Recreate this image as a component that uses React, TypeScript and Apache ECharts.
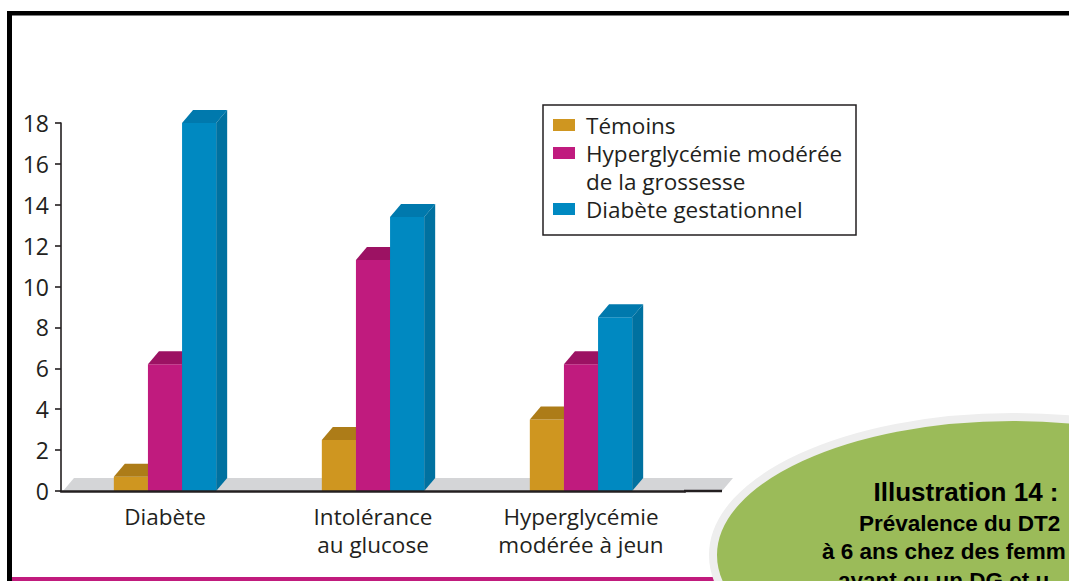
import React, { useEffect, useRef } from "react";
import * as echarts from "echarts";

// ---- data ----
const categories = ["Diabète", "Intolérance\nau glucose", "Hyperglycémie\nmodérée à jeun"];
const seriesNames = ["Témoins", "Hyperglycémie modérée de la grossesse", "Diabète gestationnel"];
const legendLabels = ["Témoins", "Hyperglycémie modérée\nde la grossesse", "Diabète gestationnel"];
const temoins = [0.7, 2.5, 3.5];
const hyperglycemieGrossesse = [6.2, 11.3, 6.2];
const diabeteGestationnel = [18, 13.4, 8.5];
const yMin = 0;
const yMax = 18;
const yStep = 2;
const calloutTitle = "Illustration 14 :";
const calloutLines = ["Prévalence du DT2", "à 6 ans chez des femm", "ayant eu un DG et u"];

// ---- styles ----
const palette = [
  { front: "#cf9620", top: "#ad7c18", side: "#a06f14" },
  { front: "#c01b7e", top: "#9c1263", side: "#8e105a" },
  { front: "#0089c1", top: "#0079ad", side: "#0071a0" },
];
const DX = 11;
const DY = 13;
const FONT = "'Open Sans', sans-serif";
const INK = "#231f20";
const calloutX = [859, 822, 838];

const allValues = [temoins, hyperglycemieGrossesse, diabeteGestationnel];

function makeRender(si: number) {
  return (params: any, api: any) => {
    const cat = api.value(0);
    const val = api.value(1);
    const top = api.coord([cat, val]);
    const base = api.coord([cat, 0]);
    const band = api.size([1, 0])[0];
    const bw = band * 0.164;
    const x0 = top[0] + (si - 1.5) * bw;
    const x1 = x0 + bw;
    const yT = top[1];
    const yB = base[1];
    const c = palette[si];
    return {
      type: "group",
      children: [
        { type: "polygon", shape: { points: [[x0, yB], [x1, yB], [x1, yT], [x0, yT]] }, style: { fill: c.front } },
        { type: "polygon", shape: { points: [[x0, yT], [x1, yT], [x1 + DX, yT - DY], [x0 + DX, yT - DY]] }, style: { fill: c.top } },
        { type: "polygon", shape: { points: [[x1, yB], [x1 + DX, yB - DY], [x1 + DX, yT - DY], [x1, yT]] }, style: { fill: c.side } },
      ],
    };
  };
}

export default function App() {
  const ref = useRef<HTMLDivElement>(null);
  useEffect(() => {
    if (!ref.current) return;
    const chart = echarts.init(ref.current, undefined, { renderer: "svg" });

    const legendGraphics: any[] = [
      { type: "rect", z: 10, shape: { x: 543, y: 105, width: 313, height: 130 }, style: { fill: "#fff", stroke: INK, lineWidth: 1.5 } },
    ];
    const rowY = [125, 153, 209];
    legendLabels.forEach((label, i) => {
      legendGraphics.push({ type: "rect", z: 11, shape: { x: 553, y: rowY[i] - 6, width: 22, height: 12 }, style: { fill: palette[i].front } });
      legendGraphics.push({
        type: "text", z: 11, x: 586, y: rowY[i] - 14,
        style: { text: label, fill: INK, font: `22.5px ${FONT}`, lineHeight: 28, verticalAlign: "top", align: "left" },
      });
    });

    const calloutGraphics: any[] = [
      { type: "ellipse", z: 10, shape: { cx: 1013, cy: 555, rx: 300, ry: 138 }, style: { fill: "#9bbb59", stroke: "#eeeeee", lineWidth: 8 } },
      { type: "text", z: 11, x: 966, y: 492, style: { text: calloutTitle, fill: "#000", font: "bold 26px 'Liberation Sans', Arial, sans-serif", align: "center", verticalAlign: "middle" } },
    ];
    calloutLines.forEach((t, i) => {
      calloutGraphics.push({
        type: "text", z: 11, x: calloutX[i], y: 523 + i * 28.5,
        style: { text: t, fill: "#000", font: "bold 22.5px 'Liberation Sans', Arial, sans-serif", align: "left", verticalAlign: "middle" },
      });
    });

    chart.setOption({
      animation: false,
      backgroundColor: "#fff",
      grid: { left: 61, top: 123, width: 624, height: 368, containLabel: false },
      xAxis: {
        type: "category",
        data: categories,
        z: 5,
        axisLine: { lineStyle: { color: INK, width: 2.5 } },
        axisTick: { show: false },
        axisLabel: { interval: 0, fontSize: 22.5, lineHeight: 28, color: INK, fontFamily: FONT, margin: 11 },
      },
      yAxis: {
        type: "value",
        min: yMin,
        max: yMax,
        interval: yStep,
        axisLine: { show: true, lineStyle: { color: INK, width: 1.6 } },
        axisTick: { show: true, length: 6, lineStyle: { color: INK, width: 1.6 } },
        splitLine: { show: false },
        axisLabel: { fontSize: 23, color: INK, fontFamily: FONT, margin: 12 },
      },
      series: allValues.map((vals, si) => ({
        type: "custom",
        name: seriesNames[si],
        z: 3,
        renderItem: makeRender(si),
        encode: { x: 0, y: 1 },
        data: vals.map((v, i) => [i, v]),
      })),
      graphic: [
        { type: "rect", z: 20, shape: { x: 7, y: 11, width: 5, height: 570 }, style: { fill: "#000" } },
        { type: "rect", z: 20, shape: { x: 7, y: 11, width: 1062, height: 4.5 }, style: { fill: "#000" } },
        { type: "polygon", z: 1, shape: { points: [[63, 491], [722, 491], [733, 478], [74, 478]] }, style: { fill: "#d4d5d7" } },
        { type: "line", z: 5, shape: { x1: 684, y1: 491, x2: 722, y2: 491 }, style: { stroke: INK, lineWidth: 2.5 } },
        { type: "rect", z: 5, shape: { x: 12, y: 577, width: 702, height: 4 }, style: { fill: "#c11b7d" } },
        ...legendGraphics,
        ...calloutGraphics,
      ],
    });
    return () => chart.dispose();
  }, []);
  return <div ref={ref} style={{ position: "absolute", left: 0, top: 0, width: 1069, height: 581 }} />;
}
